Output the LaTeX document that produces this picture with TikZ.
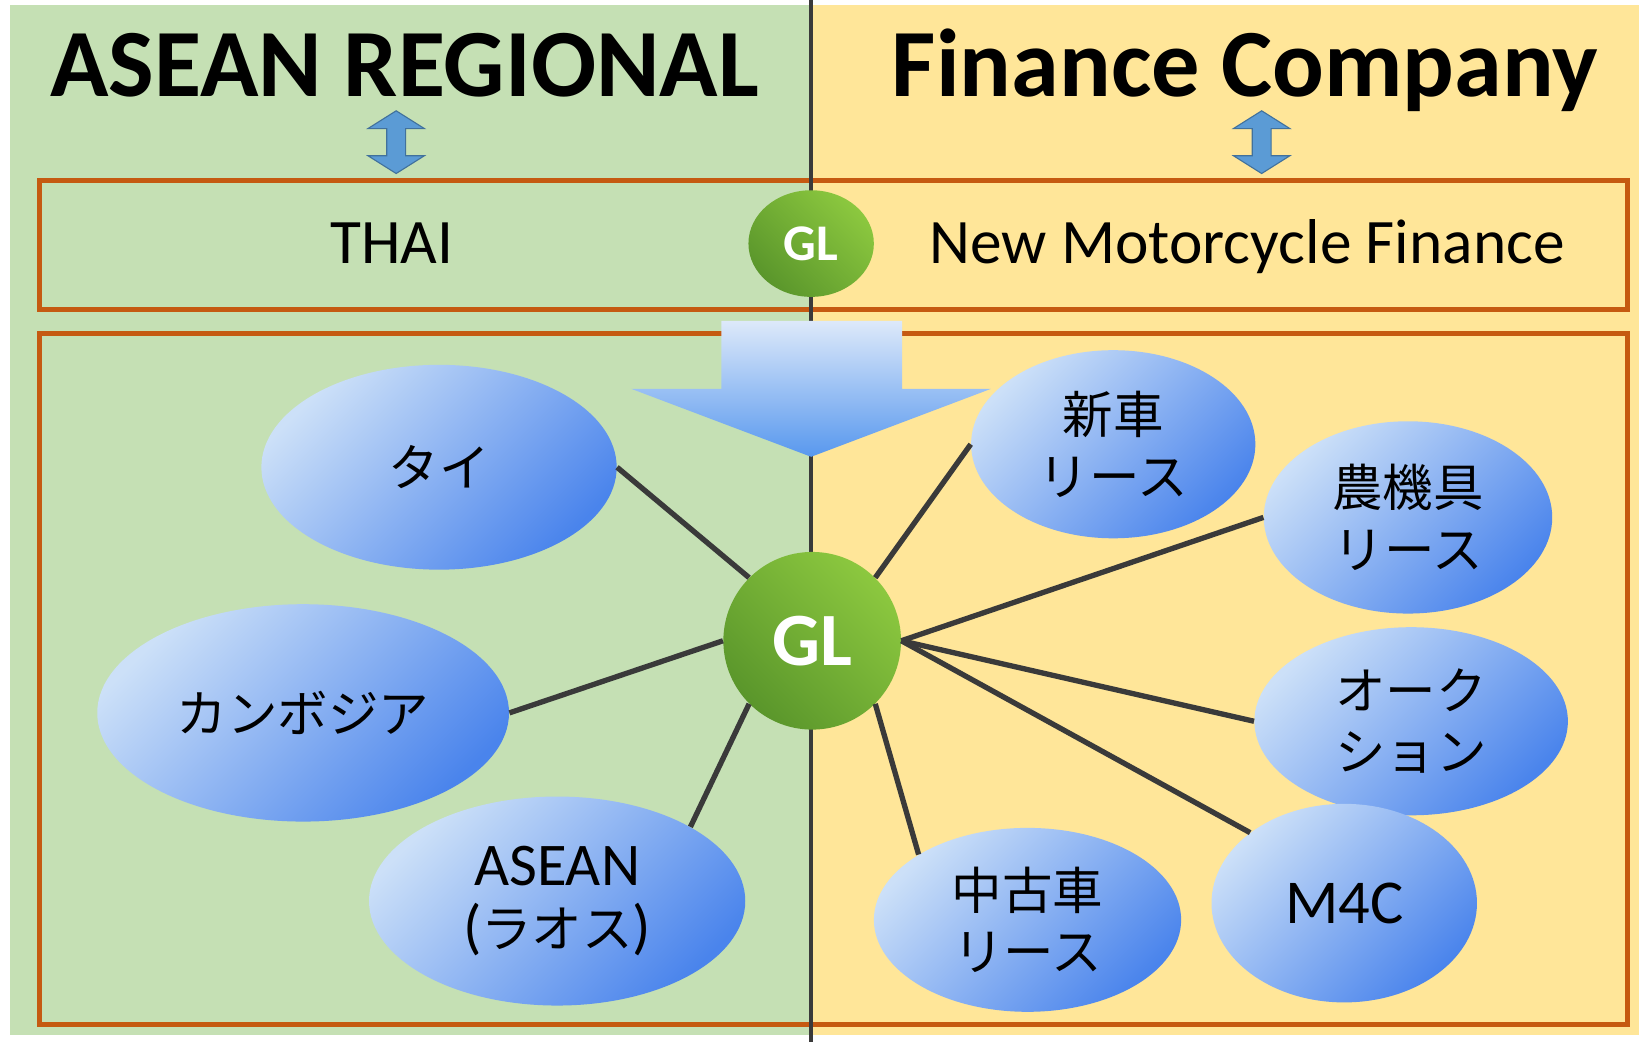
\documentclass[tikz,border=0pt]{standalone}
\usepackage{fontspec}
\setmainfont{Carlito}
\newfontfamily\jpfont{Noto Sans CJK JP}
\usepackage{tikz}
\usetikzlibrary{shapes.geometric}

\definecolor{panelgreen}{HTML}{C5E0B4}
\definecolor{panelyellow}{HTML}{FFE699}
\definecolor{boxorange}{HTML}{C55A11}
\definecolor{spokegray}{HTML}{3A3A3A}
\definecolor{itemlight}{HTML}{CCE0F8}
\definecolor{itemdark}{HTML}{4A84EC}
\definecolor{arrowblue}{HTML}{5B9BD5}
\definecolor{arrowedge}{HTML}{41719C}
\definecolor{gllight}{HTML}{8CC83F}
\definecolor{gldark}{HTML}{5A962B}
\definecolor{downlight}{HTML}{DDE9FA}
\definecolor{downdark}{HTML}{5898EE}

\begin{document}
\begin{tikzpicture}[x=0.02cm,y=-0.02cm]
		\tikzstyle{every node}+=[inner sep=0pt]
		\tikzstyle{title}=[anchor=base, font=\fontsize{52.5}{56}\selectfont\bfseries]
		\tikzstyle{rowtext}=[anchor=base, font=\fontsize{34.5}{38}\selectfont]
		\tikzstyle{item}=[ellipse, top color=itemlight, bottom color=itemdark, shading angle=45, align=center, font=\jpfont\fontsize{27.5}{33.5}\selectfont]
		\tikzstyle{hub}=[circle, top color=gllight, bottom color=gldark, shading angle=-45, text=white, font=\fontsize{41}{41}\selectfont\bfseries]
		\tikzstyle{spoke}=[draw=spokegray, line width=2.9pt]
		\tikzstyle{orangebox}=[draw=boxorange, line width=2.6pt]
		\tikzstyle{updown}=[fill=arrowblue, draw=arrowedge, line width=0.6pt]
		\useasboundingbox (0,0) rectangle (1568,997);
		\fill[white] (0,0) rectangle (1568,997);
		% two halves
		\fill[panelgreen] (10,5) rectangle (776,990);
		\fill[panelyellow] (776,5) rectangle (1568,990);
		\draw[orangebox] (38,173) rectangle (1557,296);
		\draw[orangebox] (38,319) rectangle (1557,980);
		\draw[spokegray, line width=1.8pt] (776,0) -- (776,997);
		% headings
		\node[title] (asean) at (387,92) {ASEAN REGIONAL};
		\node[title] (fincomp) at (1191,92) {Finance Company};
		\draw[updown] (379,106) -- (406,123) -- (388,123) -- (388,149) -- (406,149) -- (379,166) -- (352,149) -- (370,149) -- (370,123) -- (352,123) -- cycle;
		\draw[updown] (1207,106) -- (1234,123) -- (1216,123) -- (1216,149) -- (1234,149) -- (1207,166) -- (1180,149) -- (1198,149) -- (1198,123) -- (1180,123) -- cycle;
		\node[rowtext] (thai) at (375,252) {THAI};
		\node[rowtext] (nmf) at (1193,252) {New Motorcycle Finance};
		\node[hub, ellipse, minimum width=2.4cm, minimum height=2.04cm, font=\fontsize{28}{28}\selectfont\bfseries] (glsmall) at (776,233) {GL};
		% down arrow
		\shade[top color=downlight, bottom color=downdark] (690,307) -- (863,307) -- (863,372) -- (948,372) -- (776,437) -- (604,372) -- (690,372) -- cycle;
		% hub and items
		\node[hub, minimum size=3.4cm] (gl) at (777,613) {GL};
		\node[item, minimum width=6.8cm, minimum height=3.92cm] (tai) at (420,447) {タイ};
		\node[item, minimum width=7.88cm, minimum height=4.16cm] (cambodia) at (290,682) {カンボジア};
		\node[item, minimum width=7.2cm, minimum height=4cm] (laos) at (533,862) {{\rmfamily\fontsize{33}{33}\selectfont ASEAN}\\{\rmfamily\fontsize{33}{33}\selectfont(}ラオス{\rmfamily\fontsize{33}{33}\selectfont)}};
		\node[item, minimum width=5.44cm, minimum height=3.6cm] (shinsha) at (1065,425) {新車\\リース};
		\node[item, minimum width=5.52cm, minimum height=3.68cm] (noki) at (1347,495) {農機具\\リース};
		\node[item, minimum width=6cm, minimum height=3.6cm] (auction) at (1350,690) {オーク\\ション};
		\node[item, minimum width=5.08cm, minimum height=3.8cm, font=\fontsize{34}{34}\selectfont] (mfc) at (1286,864) {M4C};
		\node[item, minimum width=5.88cm, minimum height=3.52cm] (chuko) at (983,880) {中古車\\リース};
		\draw[spoke] (gl.north west) -- (tai.east);
		\draw[spoke] (gl.west) -- (cambodia.east);
		\draw[spoke] (gl.south west) -- (laos.north east);
		\draw[spoke] (gl.north east) -- (shinsha.west);
		\draw[spoke] (gl.east) -- (noki.west);
		\draw[spoke] (gl.east) -- (auction.west);
		\draw[spoke] (gl.east) -- (mfc.north west);
		\draw[spoke] (gl.south east) -- (chuko.north west);
\end{tikzpicture}
\end{document}
